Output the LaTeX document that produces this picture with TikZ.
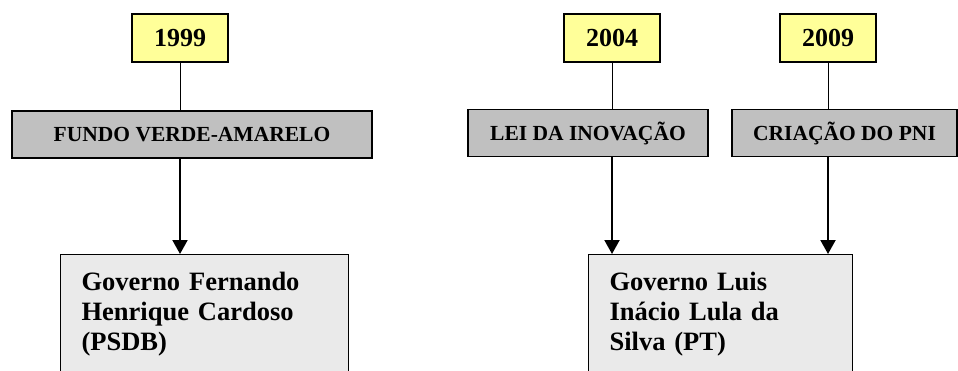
\documentclass[tikz,border=0pt]{standalone}
\usepackage{fontspec}
\setmainfont{Liberation Serif}
\usepackage{tikz}
\usetikzlibrary{arrows.meta}

\definecolor{anoamarelo}{HTML}{FFFF99}
\definecolor{marcocinza}{HTML}{C0C0C0}
\definecolor{governocinza}{HTML}{EAEAEA}

\tikzset{
  anobox/.style={draw, fill=anoamarelo, line width=1.2pt, minimum width=96pt,
    minimum height=48pt, font=\fontsize{26}{30}\selectfont\bfseries},
  marcobox/.style={draw, fill=marcocinza, line width=1.2pt, minimum height=47pt,
    font=\fontsize{21.5}{24}\selectfont\bfseries},
  governobox/.style={draw, fill=governocinza, line width=1.2pt, anchor=north west,
    align=left, inner xsep=21pt, inner ysep=17.5pt,
    font=\fontsize{26.5}{30}\selectfont\bfseries},
  liga/.style={line width=1pt},
  seta/.style={line width=2pt, -{Triangle[width=15pt,length=14pt]}}
}

\begin{document}
\begin{tikzpicture}[x=1pt, y=-1pt]
                    \useasboundingbox (0,0) rectangle (958,370);

                    % anos
                    \node[anobox] (a1999) at (180,38) {1999};
                    \node[anobox] (a2004) at (612,38) {2004};
                    \node[anobox] (a2009) at (828,38) {2009};

                    % marcos
                    \node[marcobox, minimum width=360pt] (fundo) at (192,134.5) {FUNDO VERDE-AMARELO};
                    \node[marcobox, minimum width=240pt] (lei) at (588,133) {LEI DA INOVAÇÃO};
                    \node[marcobox, minimum width=225pt] (pni) at (844.5,133) {CRIAÇÃO DO PNI};

                    % governos
                    \node[governobox, text width=246pt] (fhc) at (60,254)
                        {Governo Fernando\\Henrique Cardoso\\(PSDB)};
                    \node[governobox, text width=222pt] (lula) at (588,254)
                        {Governo Luis\\Inácio Lula da\\Silva (PT)};

                    \foreach \ano/\marco/\gov in {a1999/fundo/fhc, a2004/lei/lula, a2009/pni/lula} {
                        \draw[liga] (\ano.south) -- (\ano.south |- \marco.north);
                        \draw[seta] (\ano.south |- \marco.south) -- (\ano.south |- \gov.north);
                    }
                \end{tikzpicture}
\end{document}
